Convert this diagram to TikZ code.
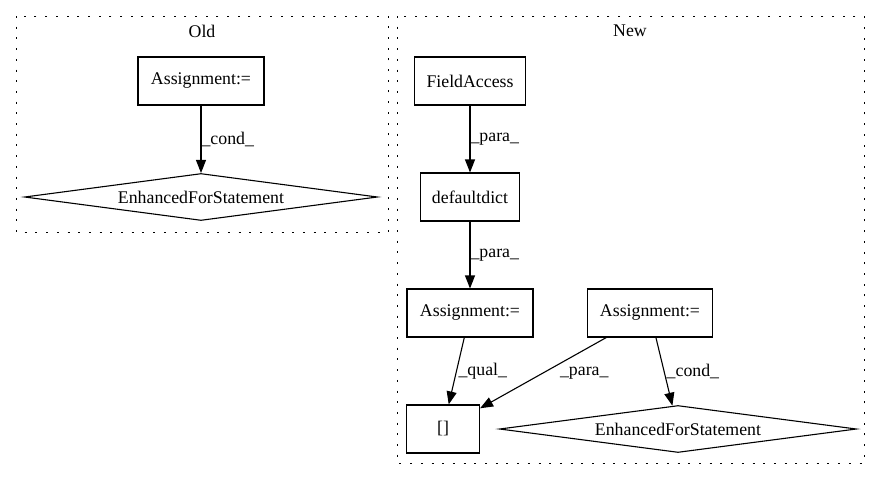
\documentclass[tikz,border=0pt]{standalone}
\usepackage{fontspec}
\setmainfont{Liberation Serif}
\usepackage{tikz}
\usetikzlibrary{shapes, positioning, arrows.meta}

\begin{document}
\begin{tikzpicture}[x=1pt, y=-1pt, line width=1.1pt,
        >={Triangle[length=13pt, width=10pt]},
        every node/.style={font=\fontsize{17.8}{20}\selectfont},
        box/.style={draw, rectangle, minimum height=48pt, inner sep=0pt},
        cond/.style={draw, diamond, aspect=8, inner sep=0pt, minimum width=#1, minimum height=47pt},
        cluster/.style={line width=1pt, dash pattern=on 2pt off 8.7pt}]
        \useasboundingbox (0, 0) rectangle (880, 480);

        % Old
        \draw[cluster] (16, 16) rectangle (388, 232);
        \node (oldtitle) at (202, 31) {Old};
        \node[box, minimum width=126pt] (oldassign) at (201, 81) {Assignment:=};
        \node[cond=353pt] (oldfor) at (201, 197) {EnhancedForStatement};

        \draw[->] (oldassign) to node[right, inner sep=0pt] {\_cond\_} (oldfor);

        % New
        \draw[cluster] (397, 16) rectangle (864, 463);
        \node (newtitle) at (630, 31) {New};
        \node[box, minimum width=111pt] (field) at (470, 81) {FieldAccess};
        \node[box, minimum width=99pt] (ddict) at (470, 197) {defaultdict};
        \node[box, minimum width=126pt] (assignA) at (470, 313) {Assignment:=};
        \node[box, minimum width=125pt] (assignB) at (650, 313) {Assignment:=};
        \node[box, minimum width=73pt] (sub) at (443, 429) {[]};
        \node[cond=357pt] (newfor) at (678, 429) {EnhancedForStatement};

        \draw[->] (field) to node[right, inner sep=0pt] {\_para\_} (ddict);
        \draw[->] (ddict) to node[right, inner sep=0pt] {\_para\_} (assignA);
        \draw[->] (assignA) to node[right, inner sep=1.5pt] {\_qual\_} (sub);
        \draw[->] (assignB) to node[right=13pt] {\_para\_} (sub);
        \draw[->] (assignB) to node[right, inner sep=2pt] {\_cond\_} (newfor);
    \end{tikzpicture}
\end{document}
